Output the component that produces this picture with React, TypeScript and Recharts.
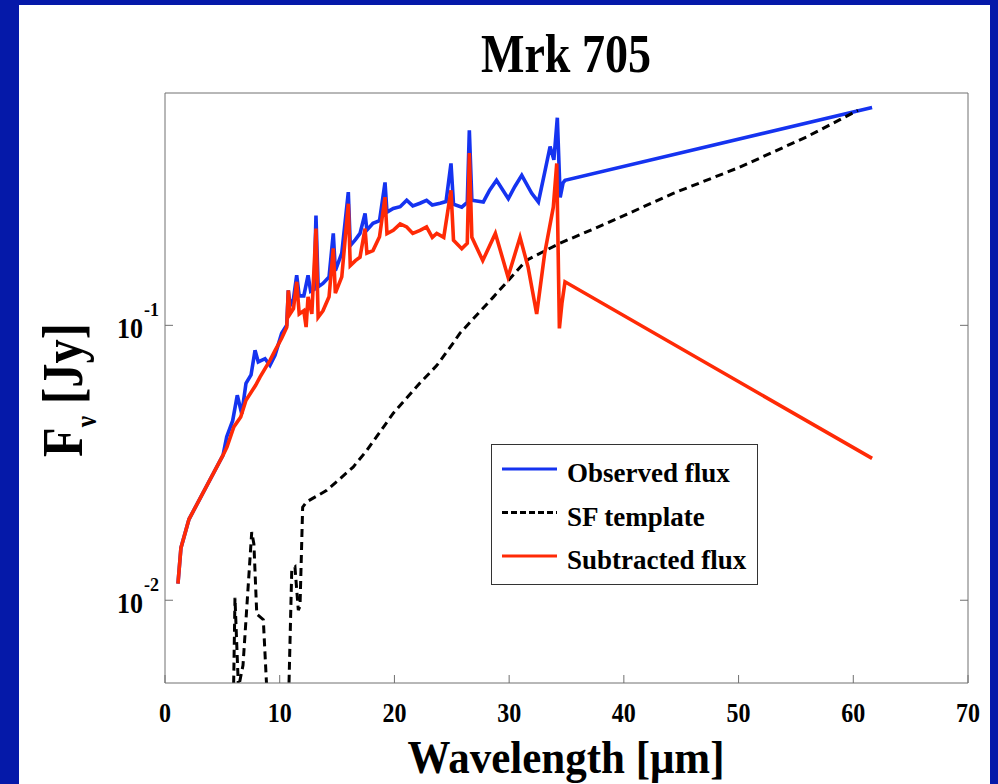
import React from 'react';
import { LineChart, Line, XAxis, YAxis } from 'recharts';

// wavelength [um], flux [Jy]
const observedFlux: [number, number][] = [
  [1.13, 0.0115], [1.39, 0.0155], [2.09, 0.0197], [5.06, 0.0337], [5.38, 0.0393],
  [5.9, 0.045], [6.3, 0.0557], [6.69, 0.0477], [7.06, 0.0615], [7.5, 0.066],
  [7.85, 0.0811], [8.13, 0.0736], [8.72, 0.0756], [9.15, 0.0715], [9.59, 0.0778],
  [10.17, 0.0935], [10.61, 0.1], [10.75, 0.134], [10.9, 0.118], [11.2, 0.125],
  [11.48, 0.152], [11.7, 0.128], [12.1, 0.128], [12.47, 0.152], [12.7, 0.133],
  [13.0, 0.135], [13.16, 0.251], [13.35, 0.138], [13.77, 0.142], [14.3, 0.15],
  [14.67, 0.216], [14.85, 0.158], [15.41, 0.183], [15.98, 0.305], [16.15, 0.195],
  [16.6, 0.205], [17.0, 0.216], [17.44, 0.255], [17.6, 0.222], [18.13, 0.235],
  [18.7, 0.24], [19.18, 0.331], [19.35, 0.258], [19.9, 0.266], [20.5, 0.27],
  [21.07, 0.285], [21.6, 0.272], [22.23, 0.278], [22.8, 0.285], [23.3, 0.274],
  [23.98, 0.278], [24.5, 0.282], [24.93, 0.388], [25.15, 0.276], [25.87, 0.269],
  [26.35, 0.28], [26.53, 0.512], [26.75, 0.285], [27.75, 0.281], [28.3, 0.31],
  [28.9, 0.337], [29.93, 0.289], [30.5, 0.32], [31.1, 0.351], [31.97, 0.302],
  [32.55, 0.281], [33.1, 0.36], [33.57, 0.447], [33.9, 0.4], [34.2, 0.569],
  [34.45, 0.292], [34.7, 0.33], [34.87, 0.337], [61.64, 0.62],
];

const sfTemplate: [number, number][] = [
  [5.95, 0.004], [6.1, 0.0102], [6.4, 0.0048], [6.8, 0.0058], [7.56, 0.0177],
  [7.75, 0.016], [8.0, 0.0089], [8.57, 0.0085], [8.9, 0.0045], [9.2, 0.003],
  [10.5, 0.003], [10.8, 0.0048], [11.05, 0.0129], [11.33, 0.0132], [11.62, 0.0092],
  [11.77, 0.0095], [12.0, 0.0218], [12.35, 0.0228], [14.1, 0.0251], [16.4, 0.0305],
  [17.6, 0.0351], [19.9, 0.0479], [22.2, 0.0615], [23.7, 0.0715], [25.1, 0.086],
  [25.7, 0.0935], [28.6, 0.1264], [31.5, 0.1723], [34.4, 0.1987], [38.5, 0.235],
  [44.3, 0.302], [50.1, 0.376], [55.9, 0.484], [60.4, 0.605],
];

const subtractedFlux: [number, number][] = [
  [1.13, 0.0115], [1.39, 0.0155], [2.09, 0.0197], [5.06, 0.0337], [5.4, 0.0361],
  [6.0, 0.0427], [6.6, 0.0464], [7.06, 0.0534], [7.9, 0.0605], [8.28, 0.0648],
  [9.15, 0.0746], [9.6, 0.0811], [10.17, 0.0897], [10.61, 0.0984], [10.75, 0.134],
  [10.9, 0.11], [11.2, 0.115], [11.48, 0.144], [11.7, 0.11], [12.1, 0.113],
  [12.3, 0.0986], [12.47, 0.127], [12.8, 0.11], [13.16, 0.225], [13.35, 0.107],
  [13.77, 0.113], [14.3, 0.127], [14.67, 0.1905], [14.85, 0.131], [15.41, 0.15],
  [15.98, 0.277], [16.15, 0.165], [16.6, 0.172], [17.0, 0.177], [17.44, 0.225],
  [17.6, 0.183], [18.13, 0.187], [18.7, 0.21], [19.18, 0.2925], [19.35, 0.2155],
  [19.9, 0.2215], [20.5, 0.234], [21.07, 0.228], [21.6, 0.216], [22.23, 0.2215],
  [22.8, 0.228], [23.3, 0.209], [23.69, 0.216], [24.3, 0.209], [24.93, 0.31],
  [25.15, 0.204], [25.87, 0.19], [26.35, 0.199], [26.53, 0.4235], [26.75, 0.209],
  [27.7, 0.172], [28.8, 0.216], [29.9, 0.15], [30.95, 0.209], [31.65, 0.163],
  [32.4, 0.11], [33.1, 0.183], [33.85, 0.269], [34.15, 0.388], [34.38, 0.0975],
  [34.6, 0.12], [34.87, 0.144], [61.64, 0.0328],
];

const xTicks = [0, 10, 20, 30, 40, 50, 60, 70];
const yTicks = [0.01, 0.1];

const toRows = (pts: [number, number][]) => pts.map(([w, f]) => ({ w, f }));

const series = [
  { name: 'Observed flux', data: toRows(observedFlux), color: '#1533F0', dash: undefined as string | undefined },
  { name: 'SF template', data: toRows(sfTemplate), color: '#000000', dash: '8 5' },
  { name: 'Subtracted flux', data: toRows(subtractedFlux), color: '#FF2A06', dash: undefined },
];

const BG = '#0519A9';
const FONT = '"Liberation Serif", "Times New Roman", serif';
const FRAME = '#707070';

const BottomTick = (props: any) => {
  const { x, y, payload } = props;
  const label = String(payload.value);
  return (
    <g>
      <line x1={x} x2={x} y1={y} y2={y - 8} stroke={FRAME} />
      <text x={x} y={y + 39} textAnchor="middle" fontFamily={FONT} fontWeight={700} fontSize={28} fill="#000"
        textLength={label.length * 12} lengthAdjust="spacingAndGlyphs">
        {label}
      </text>
    </g>
  );
};

const TopTick = (props: any) => {
  const { x, y } = props;
  return <line x1={x} x2={x} y1={y} y2={y + 8} stroke={FRAME} />;
};

const LeftTick = (props: any) => {
  const { x, y, payload } = props;
  const exp = Math.round(Math.log10(payload.value));
  return (
    <g>
      <line x1={x} x2={x + 8} y1={y} y2={y} stroke={FRAME} />
      <text x={x - 22} y={y + 13} textAnchor="end" fontFamily={FONT} fontWeight={700} fontSize={29} fill="#000"
        textLength={26} lengthAdjust="spacingAndGlyphs">10</text>
      <text x={x - 21} y={y - 9} fontFamily={FONT} fontWeight={700} fontSize={18} fill="#000">{exp}</text>
    </g>
  );
};

const RightTick = (props: any) => {
  const { x, y } = props;
  return <line x1={x} x2={x - 8} y1={y} y2={y} stroke={FRAME} />;
};

export default function App() {
  return (
    <div style={{ position: 'absolute', left: 0, top: 0, width: 998, height: 784, background: BG, overflow: 'hidden' }}>
      <div style={{ position: 'absolute', left: 19, top: 5, width: 971, height: 779, background: '#fff' }} />
      <div style={{ position: 'absolute', left: 0, top: 0 }}>
        <LineChart width={998} height={784} margin={{ top: 83, right: 20, bottom: 41, left: 65 }}>
          <XAxis
            dataKey="w" type="number" domain={[0, 70]} ticks={xTicks} allowDataOverflow
            height={60} stroke={FRAME} tickLine={false} tickSize={0} tickMargin={0} tick={BottomTick}
          />
          <XAxis
            xAxisId="top" orientation="top" dataKey="w" type="number" domain={[0, 70]} ticks={xTicks}
            height={10} stroke={FRAME} tickLine={false} tickSize={0} tickMargin={0} tick={TopTick}
          />
          <YAxis
            scale="log" type="number" domain={[0.005, 0.7]} ticks={yTicks} allowDataOverflow
            width={100} stroke={FRAME} tickLine={false} tickSize={0} tickMargin={0} tick={LeftTick}
          />
          <YAxis
            yAxisId="right" orientation="right" scale="log" type="number" domain={[0.005, 0.7]} ticks={yTicks}
            allowDataOverflow width={10} stroke={FRAME} tickLine={false} tickSize={0} tickMargin={0} tick={RightTick}
          />
          {series.map(s => (
            <Line
              key={s.name} data={s.data} dataKey="f" name={s.name} type="linear"
              stroke={s.color} strokeWidth={s.dash ? 3 : 3.6} strokeDasharray={s.dash}
              dot={false} activeDot={false} isAnimationActive={false}
            />
          ))}
        </LineChart>
      </div>
      <svg width={998} height={784} style={{ position: 'absolute', left: 0, top: 0, pointerEvents: 'none' }}>
        <text x={566} y={72} textAnchor="middle" fontFamily={FONT} fontWeight={700} fontSize={54} fill="#000"
          textLength={170} lengthAdjust="spacingAndGlyphs">Mrk 705</text>
        <text x={566} y={773} textAnchor="middle" fontFamily={FONT} fontWeight={700} fontSize={46} fill="#000"
          textLength={317} lengthAdjust="spacingAndGlyphs">Wavelength [μm]</text>
        <text transform="translate(82,457) rotate(-90)" fontFamily={FONT} fontWeight={700} fontSize={58} fill="#000"
          textLength={134} lengthAdjust="spacingAndGlyphs">
          F<tspan fontSize={30} dy={14}>ν</tspan><tspan dy={-14}> [Jy]</tspan>
        </text>
        <rect x={491.5} y={444.5} width={266} height={140} fill="#fff" stroke="#333" strokeWidth={1} />
        {series.map((s, i) => {
          const ly = 469 + i * 43.5;
          return (
            <g key={s.name}>
              <line x1={502} x2={557} y1={ly} y2={ly} stroke={s.color} strokeWidth={3} strokeDasharray={s.dash ? '6 3' : undefined} />
              <text x={567} y={ly + 13} fontFamily={FONT} fontWeight={700} fontSize={27} fill="#000">{s.name}</text>
            </g>
          );
        })}
      </svg>
    </div>
  );
}
